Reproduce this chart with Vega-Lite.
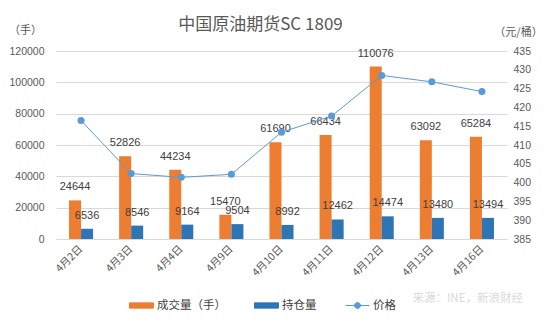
{
  "$schema": "https://vega.github.io/schema/vega-lite/v6.json",
  "width": 451,
  "height": 188,
  "autosize": {"type": "none"},
  "padding": {"left": 56, "top": 51, "right": 38, "bottom": 88},
  "background": "white",
  "title": {
    "text": "中国原油期货SC 1809",
    "font": "Noto Sans CJK SC",
    "fontSize": 17,
    "fontWeight": "normal",
    "color": "#595959",
    "dx": -21,
    "dy": 14,
    "offset": 4
  },
  "config": {
    "font": "Noto Sans CJK SC",
    "view": {"stroke": null},
    "axis": {
      "labelFont": "Liberation Sans",
      "labelFontSize": 10.5,
      "labelColor": "#595959",
      "titleFont": "Noto Sans CJK SC",
      "titleFontSize": 11,
      "titleFontWeight": "normal",
      "titleColor": "#595959"
    }
  },
  "datasets": {
    "bars": [
      {"date": "4月2日", "series": "成交量（手）", "value": 24644},
      {"date": "4月2日", "series": "持仓量", "value": 6536},
      {"date": "4月3日", "series": "成交量（手）", "value": 52826},
      {"date": "4月3日", "series": "持仓量", "value": 8546},
      {"date": "4月4日", "series": "成交量（手）", "value": 44234},
      {"date": "4月4日", "series": "持仓量", "value": 9164},
      {"date": "4月9日", "series": "成交量（手）", "value": 15470},
      {"date": "4月9日", "series": "持仓量", "value": 9504},
      {"date": "4月10日", "series": "成交量（手）", "value": 61690},
      {"date": "4月10日", "series": "持仓量", "value": 8992},
      {"date": "4月11日", "series": "成交量（手）", "value": 66434},
      {"date": "4月11日", "series": "持仓量", "value": 12462},
      {"date": "4月12日", "series": "成交量（手）", "value": 110076},
      {"date": "4月12日", "series": "持仓量", "value": 14474},
      {"date": "4月13日", "series": "成交量（手）", "value": 63092},
      {"date": "4月13日", "series": "持仓量", "value": 13480},
      {"date": "4月16日", "series": "成交量（手）", "value": 65284},
      {"date": "4月16日", "series": "持仓量", "value": 13494}
    ],
    "price": [
      {"date": "4月2日", "price": 416.5},
      {"date": "4月3日", "price": 402.4},
      {"date": "4月4日", "price": 401.4},
      {"date": "4月9日", "price": 402.2},
      {"date": "4月10日", "price": 413.4},
      {"date": "4月11日", "price": 417.7},
      {"date": "4月12日", "price": 428.5},
      {"date": "4月13日", "price": 426.8},
      {"date": "4月16日", "price": 424.2}
    ]
  },
  "encoding": {
    "x": {
      "field": "date",
      "type": "nominal",
      "sort": null,
      "scale": {"paddingInner": 0.52, "paddingOuter": 0.26},
      "axis": {
        "title": null,
        "labelAngle": -45,
        "labelAlign": "right",
        "labelBaseline": "middle",
        "labelPadding": 8,
        "labelFont": "Noto Sans CJK SC",
        "labelFontSize": 10.5,
        "domain": false,
        "ticks": false
      }
    }
  },
  "layer": [
    {
      "data": {"name": "bars"},
      "encoding": {
        "xOffset": {
          "field": "series",
          "type": "nominal",
          "scale": {"domain": ["成交量（手）", "持仓量"], "paddingInner": 0, "paddingOuter": 0}
        },
        "y": {
          "field": "value",
          "type": "quantitative",
          "scale": {"domain": [0, 120000], "nice": false},
          "axis": {
            "title": "（手）",
            "titleAngle": 0,
            "titleAlign": "center",
            "titleBaseline": "middle",
            "titleX": -31,
            "titleY": -21,
            "values": [0, 20000, 40000, 60000, 80000, 100000, 120000],
            "format": "d",
            "labelPadding": 12,
            "domain": false,
            "ticks": false,
            "grid": true,
            "gridColor": "#d9d9d9",
            "gridWidth": 1
          }
        }
      },
      "layer": [
        {
          "mark": {"type": "bar"},
          "encoding": {
            "color": {
              "field": "series",
              "type": "nominal",
              "scale": {
                "domain": ["成交量（手）", "持仓量", "价格"],
                "range": ["#ED7D31", "#2E75B6", "#5B9BD5"]
              },
              "legend": {
                "title": null,
                "orient": "none",
                "legendX": 73,
                "legendY": 242,
                "direction": "horizontal",
                "symbolSize": 576,
                "symbolStrokeWidth": 1,
                "labelOffset": 3,
                "labelFontSize": 11.5,
                "labelColor": "#404040",
                "labelFont": "Noto Sans CJK SC",
                "columnPadding": 26,
                "encode": {
                  "symbols": {
                    "update": {
                      "shape": {"signal": "datum.value === '价格' ? 'M-1,0H1M-0.25,0A0.25,0.25 0 1,0 0.25,0A0.25,0.25 0 1,0 -0.25,0' : 'M-1,-0.22H1V0.22H-1Z'"},
                      "fill": {"scale": "color", "field": "value"},
                      "stroke": {"scale": "color", "field": "value"},
                      "strokeWidth": {"value": 1},
                      "opacity": {"value": 1},
                      "fillOpacity": {"value": 1}
                    }
                  }
                }
              }
            }
          }
        },
        {
          "mark": {
            "type": "text",
            "dy": -13,
            "baseline": "middle",
            "align": "center",
            "font": "Liberation Sans",
            "fontSize": 11,
            "color": "#404040"
          },
          "encoding": {
            "text": {"field": "value", "type": "quantitative", "format": "d"}
          }
        }
      ]
    },
    {
      "data": {"name": "price"},
      "encoding": {
        "y": {
          "field": "price",
          "type": "quantitative",
          "scale": {"domain": [385, 435], "nice": false, "zero": false},
          "axis": {
            "orient": "right",
            "title": "（元/桶）",
            "titleAngle": 0,
            "titleAlign": "center",
            "titleBaseline": "middle",
            "titleX": 11,
            "titleY": -19,
            "values": [385, 390, 395, 400, 405, 410, 415, 420, 425, 430, 435],
            "labelPadding": 6,
            "domain": false,
            "ticks": false,
            "grid": false
          }
        },
        "color": {"datum": "价格", "type": "nominal"}
      },
      "layer": [
        {
          "mark": {"type": "line", "strokeWidth": 1},
          "encoding": {
            "opacity": {
              "datum": "来源：INE，新浪财经",
              "type": "ordinal",
              "scale": {"range": [1]},
              "legend": {
                "title": null,
                "orient": "none",
                "legendX": 345,
                "legendY": 242,
                "symbolSize": 1,
                "symbolType": "circle",
                "symbolOpacity": 0,
                "symbolFillColor": "transparent",
                "symbolStrokeColor": "transparent",
                "labelOffset": 0,
                "labelFontSize": 11.5,
                "labelFont": "Noto Sans CJK SC",
                "labelColor": "#d9d9d9"
              }
            }
          }
        },
        {
          "mark": {"type": "point", "filled": true, "size": 50, "opacity": 1}
        }
      ]
    }
  ],
  "resolve": {"scale": {"y": "independent"}}
}
